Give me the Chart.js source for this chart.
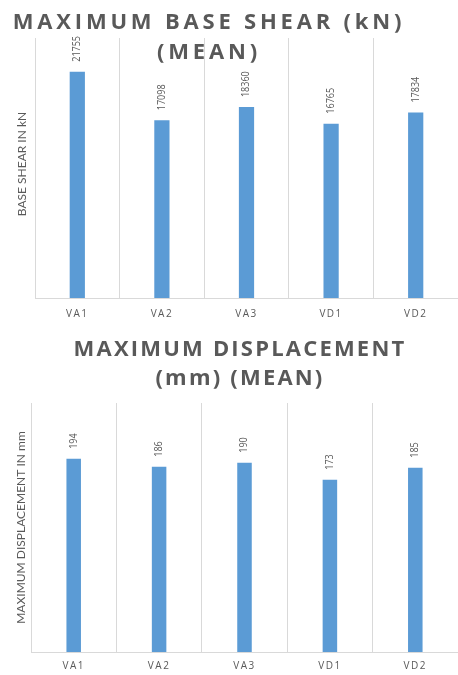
<!DOCTYPE html>
<html>
<head>
<meta charset="utf-8">
<script src="https://cdn.jsdelivr.net/npm/chart.js@4/dist/chart.umd.min.js"></script>
<style>
  html, body { margin: 0; padding: 0; background: #fff; }
  body { width: 458px; height: 675px; position: relative; overflow: hidden; }
  .panel { position: absolute; left: 0; width: 458px; }
  .panel canvas { display: block; }
  .title {
    position: absolute; transform: translateX(-50%); width: max-content;
    white-space: nowrap; text-align: center;
    font-family: "Open Sans", sans-serif; font-weight: 700; font-size: 22px;
    color: #595959; line-height: 30px;
  }
</style>
</head>
<body>
<div class="panel" style="top:0;height:330px"><canvas id="shear" width="458" height="330"></canvas></div>
<div class="panel" style="top:330px;height:345px"><canvas id="disp" width="458" height="345"></canvas></div>
<div class="title" style="left:209px;top:5px;letter-spacing:3.8px">MAXIMUM BASE SHEAR (kN)<br>(MEAN)</div>
<div class="title" style="left:240px;top:333px;line-height:29px;letter-spacing:2.2px">MAXIMUM DISPLACEMENT<br>(mm) (MEAN)</div>
<script>
// Load cases and their mean peak responses
const categories = ['VA1', 'VA2', 'VA3', 'VD1', 'VD2'];
const baseShear = [21755, 17098, 18360, 16765, 17834];
const displacement = [194, 186, 190, 173, 185];

const BAR = '#5B9BD5';
const GRID = '#d9d9d9';
const TEXT = '#595959';

// Rotated, slightly condensed value labels above each bar
const valueLabels = {
  id: 'valueLabels',
  afterDatasetsDraw(chart) {
    const ctx = chart.ctx;
    const meta = chart.getDatasetMeta(0);
    const data = chart.data.datasets[0].data;
    ctx.save();
    ctx.fillStyle = TEXT;
    ctx.font = '10px "Open Sans", sans-serif';
    ctx.textAlign = 'left';
    ctx.textBaseline = 'middle';
    meta.data.forEach((bar, i) => {
      ctx.save();
      ctx.translate(bar.x, bar.y - 10);
      ctx.rotate(-Math.PI / 2);
      ctx.scale(0.9, 1);
      ctx.fillText(String(data[i]), 0, 0);
      ctx.restore();
    });
    ctx.restore();
  }
};

// Vertical axis caption centred on the plot area
const axisCaption = {
  id: 'axisCaption',
  afterDraw(chart, args, opts) {
    const ctx = chart.ctx;
    const area = chart.chartArea;
    ctx.save();
    ctx.fillStyle = TEXT;
    ctx.font = '12px Lato, sans-serif';
    ctx.textAlign = 'center';
    ctx.textBaseline = 'middle';
    ctx.translate(opts.x, (area.top + area.bottom) / 2 + opts.dy);
    ctx.rotate(-Math.PI / 2);
    ctx.fillText(opts.text, 0, 0);
    ctx.restore();
  }
};

// Spaced-out category labels
const tickSpacing = {
  id: 'tickSpacing',
  beforeDraw(chart) { chart.ctx.letterSpacing = '1.5px'; },
  beforeDatasetsDraw(chart) { chart.ctx.letterSpacing = '0px'; }
};

function makeChart(id, values, max, cfg) {
  return new Chart(document.getElementById(id), {
    type: 'bar',
    data: {
      labels: categories,
      datasets: [{
        data: values,
        backgroundColor: BAR,
        borderWidth: 0,
        categoryPercentage: 1,
        barPercentage: cfg.barPct
      }]
    },
    options: {
      responsive: false,
      animation: false,
      layout: { padding: { top: cfg.top, left: cfg.left, right: 0, bottom: 0 } },
      plugins: {
        legend: { display: false },
        tooltip: { enabled: false },
        title: { display: false },
        axisCaption: { text: cfg.caption, x: cfg.captionX, dy: cfg.captionDy }
      },
      scales: {
        x: {
          offset: true,
          grid: { display: true, offset: true, color: GRID, lineWidth: 1, drawTicks: false },
          border: { display: true, color: GRID, width: 1 },
          ticks: {
            color: TEXT,
            padding: cfg.tickPad,
            font: { family: '"Open Sans", sans-serif', size: 10 },
            maxRotation: 0
          },
          afterFit(scale) { scale.height = cfg.xHeight; }
        },
        y: {
          display: false,
          min: 0,
          max: max
        }
      }
    },
    plugins: [valueLabels, axisCaption, tickSpacing]
  });
}

makeChart('shear', baseShear, 25000, {
  top: 38, left: 35, xHeight: 32, tickPad: 10, barPct: 0.18,
  caption: 'BASE SHEAR IN kN', captionX: 22, captionDy: -4
});

makeChart('disp', displacement, 250, {
  top: 73, left: 31, xHeight: 23, tickPad: 8, barPct: 0.17,
  caption: 'MAXIMUM DISPLACEMENT IN mm', captionX: 21, captionDy: 0
});
</script>
</body>
</html>
